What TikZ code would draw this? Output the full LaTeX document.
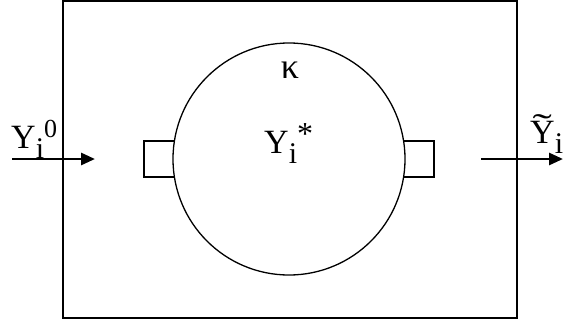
\documentclass[tikz,border=0pt]{standalone}
\usepackage{fontspec}
\setmainfont{Liberation Serif}
\usetikzlibrary{arrows.meta}
\tikzset{
  frame/.style={line width=2pt},
  port/.style={line width=1.2pt},
  flow/.style={line width=2.8pt,-{Triangle[length=14pt,width=12pt]}},
  lbl/.style={inner sep=0pt,anchor=base west,font=\fontsize{34}{34}\selectfont},
}
\newcommand{\subi}{\raisebox{-10pt}{\fontsize{30}{30}\selectfont i}}
\newcommand{\widetil}[1]{\rlap{\makebox[24pt][c]{\raisebox{6pt}{\scalebox{1.7}[1]{˜}}}}#1}
\begin{document}
\begin{tikzpicture}[x=1pt,y=-1pt]
\useasboundingbox (0,0) rectangle (563,322);
\draw[frame] (63,1) rectangle (517,318);
\node[circle,draw,line width=1.3pt,minimum size=232pt,inner sep=0pt] (c) at (289,159) {};
\draw[port] (174.4,141) -- (144,141) -- (144,177) -- (174.4,177);
\draw[port] (403.6,141) -- (434,141) -- (434,177) -- (403.6,177);
\coordinate (inS) at (12,159);
\coordinate (inE) at (95,159);
\coordinate (outS) at (481,159);
\coordinate (outE) at (563,159);
\draw[flow] (inS) -- (inE);
\draw[flow] (outS) -- (outE);
\node[lbl] (yin) at (11,148) {Y\subi\raisebox{11pt}{\fontsize{26}{26}\selectfont 0}};
\node[lbl] (ystar) at (264,153) {Y\subi\raisebox{9pt}{\fontsize{32}{32}\selectfont *}};
\node[lbl] (yout) at (530,143) {\widetil{Y}\subi};
\node[inner sep=0pt,font=\fontsize{36}{36}\selectfont] (kappa) at (290,70) {κ};
\end{tikzpicture}
\end{document}
